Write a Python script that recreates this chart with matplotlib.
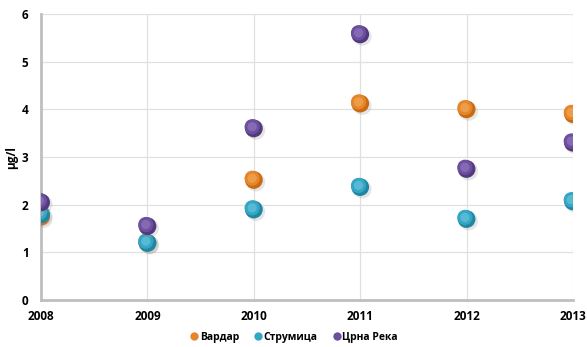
import matplotlib.pyplot as plt
from matplotlib.transforms import offset_copy
from matplotlib.lines import Line2D

# === Data
years = [2008, 2009, 2010, 2011, 2012, 2013]
vardar = [1.75, 1.2, 2.52, 4.12, 4.0, 3.9]
strumica = [1.8, 1.2, 1.9, 2.37, 1.7, 2.07]
crna_reka = [2.05, 1.55, 3.6, 5.57, 2.75, 3.3]
series_names = ['Вардар', 'Струмица', 'Црна Река']

# === Styles (rim, base, highlight)
colors = {
    'Вардар': ('#C96A12', '#E5862A', '#F4B56A'),
    'Струмица': ('#1F86A3', '#33A6C4', '#7CCDE2'),
    'Црна Река': ('#533A7E', '#6D4F9E', '#9C85C6'),
}

plt.rcParams['font.family'] = ['Open Sans', 'DejaVu Sans']
fig = plt.figure(figsize=(5.87, 3.47), dpi=100)
ax = fig.add_axes([0.07, 0.135, 0.906, 0.825])

ax.set_xlim(2008, 2013)
ax.set_ylim(0, 6)
ax.set_xticks(years)
ax.set_yticks(range(0, 7))
ax.grid(True, color='#E0E0E0', linewidth=0.9)
ax.set_axisbelow(True)
for s in ['top', 'right']:
    ax.spines[s].set_visible(False)
for s in ['left', 'bottom']:
    ax.spines[s].set_color('#BFBFBF')
    ax.spines[s].set_linewidth(2)
ax.tick_params(length=0, labelsize=8.5)
ax.tick_params(axis='y', pad=9)
ax.tick_params(axis='x', pad=7)
for lbl in ax.get_xticklabels() + ax.get_yticklabels():
    lbl.set_fontweight('bold')
ax.set_ylabel('μg/l', fontsize=8.5, fontweight='bold', labelpad=3)

shadow_tr = offset_copy(ax.transData, fig=fig, x=1.5, y=-1.5, units='points')
hi_tr = offset_copy(ax.transData, fig=fig, x=-1.2, y=1.2, units='points')

# each series gets its own zorder block so layers don't interleave
for i, (name, vals) in enumerate(zip(series_names, [vardar, strumica, crna_reka])):
    rim, base, light = colors[name]
    z = 3 + i * 4
    ax.scatter(years, vals, s=180, color='#999999', alpha=0.25, transform=shadow_tr,
               edgecolors='none', zorder=z)
    ax.scatter(years, vals, s=165, color=rim, edgecolors='none', zorder=z + 1)
    ax.scatter(years, vals, s=120, color=base, edgecolors='none', zorder=z + 2,
               transform=hi_tr)
    ax.scatter(years, vals, s=45, color=light, alpha=0.5, transform=hi_tr,
               edgecolors='none', zorder=z + 3)

handles = [Line2D([], [], marker='o', linestyle='', markersize=6,
                  markerfacecolor=colors[n][1], markeredgecolor='none')
           for n in series_names]
fig.legend(handles, series_names, loc='lower center', bbox_to_anchor=(0.5, -0.015),
           ncol=3, frameon=False, prop={'size': 7.5, 'weight': 'bold'},
           handletextpad=0.05, columnspacing=1.3, handlelength=1)

plt.savefig('out.png', dpi=100)
plt.close()
